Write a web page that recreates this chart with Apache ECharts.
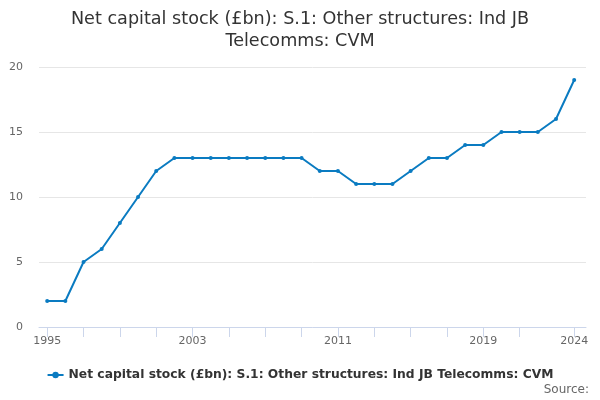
<!DOCTYPE html>
<html><head><meta charset="utf-8">
<script src="https://cdn.jsdelivr.net/npm/echarts@6/dist/echarts.min.js"></script>
<style>html,body{margin:0;padding:0;background:#fff}#c{width:600px;height:400px}</style>
</head><body><div id="c"></div>
<script>
const years = [1995,1996,1997,1998,1999,2000,2001,2002,2003,2004,2005,2006,2007,2008,2009,2010,2011,2012,2013,2014,2015,2016,2017,2018,2019,2020,2021,2022,2023,2024];
const values = [2,2,5,6,8,10,12,13,13,13,13,13,13,13,13,12,12,11,11,11,12,13,13,14,14,15,15,15,16,19];
const xLabels = [1995,2003,2011,2019,2024];
const xTicks = [1995,1997,1999,2001,2003,2005,2007,2009,2011,2013,2015,2017,2019,2021,2024];
const yTicks = [0,5,10,15,20];
const seriesName = 'Net capital stock (£bn): S.1: Other structures: Ind JB Telecomms: CVM';
const titleText = 'Net capital stock (£bn): S.1: Other structures: Ind JB\nTelecomms: CVM';

const chart = echarts.init(document.getElementById('c'), null, {renderer:'canvas'});
chart.setOption({
  animation:false,
  textStyle:{fontFamily:'DejaVu Sans'},
  title:{text:titleText,left:'center',top:3,textStyle:{fontFamily:'DejaVu Sans',fontSize:17.6,fontWeight:'normal',color:'#333',lineHeight:22}},
  grid:{left:39,right:14,top:67,bottom:73,containLabel:false},
  legend:{top:364,left:'center',itemWidth:16,itemHeight:8,itemGap:0,
    textStyle:{fontFamily:'DejaVu Sans',fontSize:12.3,fontWeight:'bold',color:'#333'},
    data:[{name:seriesName}]},
  graphic:[{type:'text',right:11,bottom:4,style:{text:'Source:',fontFamily:'DejaVu Sans',fontSize:12,fill:'#666'}}],
  xAxis:{type:'value',min:1994.55,max:2024.65,
    axisLine:{show:true,lineStyle:{color:'#ccd6eb'}},
    axisTick:{show:true,length:10,lineStyle:{color:'#ccd6eb'},customValues:xTicks},
    axisLabel:{customValues:xLabels,color:'#666',fontSize:11,margin:9,fontFamily:'DejaVu Sans',formatter:v=>String(v)},
    splitLine:{show:false}},
  yAxis:{type:'value',min:0,max:20,interval:5,
    axisLine:{show:false},axisTick:{show:false},
    axisLabel:{color:'#666',fontSize:11,margin:16,fontFamily:'DejaVu Sans',customValues:yTicks},
    splitLine:{lineStyle:{color:'#e6e6e6'}}},
  series:[{name:seriesName,type:'line',data:years.map((y,i)=>[y,values[i]]),
    color:'#0a7bc1',lineStyle:{width:2},symbol:'circle',symbolSize:4,showSymbol:true}]
});
</script></body></html>
